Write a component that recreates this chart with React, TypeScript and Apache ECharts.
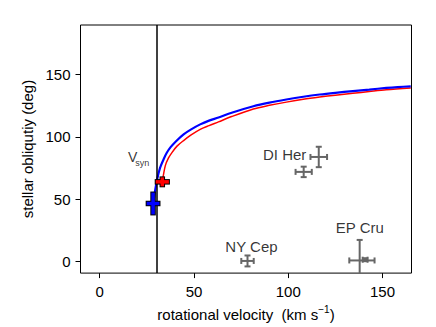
import React, { useEffect, useRef } from "react";
import * as echarts from "echarts";

const FONT = "'Liberation Sans', Arial, Helvetica, sans-serif";

// axis ticks
const xTicks = [0, 50, 100, 150];
const yTicks = [0, 50, 100, 150];

// synchronous rotation velocity
const vSyn = 30;

// model curves [velocity, obliquity]
const blueCurve = [
  [28.4, 46.4], [29.3, 56], [30.5, 66], [32, 75], [33.9, 82], [35.5, 87],
  [37.5, 91.5], [40.5, 96.5], [44.5, 102], [48.5, 106], [53.3, 110], [58, 113],
  [63, 115.5], [70, 119.4], [81.5, 124.6], [90, 127.5], [99, 130], [108, 132.2],
  [116.7, 134], [125, 135.4], [134.3, 136.8], [143, 138], [152, 139.3],
  [158, 140], [165, 140.6],
];
const redCurve = [
  [33.2, 63.8], [34.8, 76.8], [36.5, 83], [38.4, 87.5], [41, 92.5],
  [44.5, 97], [48.5, 101.5], [53.3, 106], [58, 109], [63, 112], [70, 116.3],
  [81.5, 122.4], [90, 125.3], [99, 127.9], [108, 130.2], [116.7, 132],
  [125, 133.5], [134.3, 135], [143, 136.4], [152, 137.8], [165, 139.3],
];

// observed systems: [velocity, obliquity, velocity error, obliquity error]
const observed = [
  [116.2, 83.8, 4.4, 8.2],  // DI Her (primary)
  [108.2, 71.8, 4.3, 4.2],  // DI Her (secondary)
  [78.4, 0.2, 3.3, 4.4],    // NY Cep
  [137.9, 0.6, 0, 16.5],    // EP Cru
  [139.1, 0.6, 6.7, 0],     // EP Cru
  [140.8, 1.2, 1.3, 1.2],   // EP Cru
];

// model crosses: [velocity, obliquity, velocity error, obliquity error]
const blueCross = [[28.3, 46.4, 3.4, 8.8]];
const redCross = [[33.2, 63.8, 3.5, 3.6]];

// annotations
const labelNames = ["DI Her", "NY Cep", "EP Cru"];
const labelX = [98.1, 80.5, 138.0];
const labelY = [85.6, 12.0, 27.1];

const GRAY = "#666666";

function errorRender(params: any, api: any) {
  const x = api.value(0), y = api.value(1), xe = api.value(2), ye = api.value(3);
  const cap = 3;
  const style = { stroke: GRAY, lineWidth: 2, fill: "none" };
  const children: any[] = [];
  if (xe > 0) {
    const l = api.coord([x - xe, y]);
    const r = api.coord([x + xe, y]);
    children.push({ type: "line", shape: { x1: l[0], y1: l[1], x2: r[0], y2: r[1] }, style });
    children.push({ type: "line", shape: { x1: l[0], y1: l[1] - cap, x2: l[0], y2: l[1] + cap }, style });
    children.push({ type: "line", shape: { x1: r[0], y1: r[1] - cap, x2: r[0], y2: r[1] + cap }, style });
  }
  if (ye > 0) {
    const t = api.coord([x, y + ye]);
    const b = api.coord([x, y - ye]);
    children.push({ type: "line", shape: { x1: t[0], y1: t[1], x2: b[0], y2: b[1] }, style });
    children.push({ type: "line", shape: { x1: t[0] - cap, y1: t[1], x2: t[0] + cap, y2: t[1] }, style });
    children.push({ type: "line", shape: { x1: b[0] - cap, y1: b[1], x2: b[0] + cap, y2: b[1] }, style });
  }
  return { type: "group", children };
}

function crossRender(color: string) {
  return (params: any, api: any) => {
    const x = api.value(0), y = api.value(1), xe = api.value(2), ye = api.value(3);
    const c = api.coord([x, y]);
    const l = api.coord([x - xe, y]);
    const r = api.coord([x + xe, y]);
    const t = api.coord([x, y + ye]);
    const b = api.coord([x, y - ye]);
    const th = 3.5;
    const o = 1;
    return {
      type: "group",
      children: [
        { type: "rect", shape: { x: l[0] - o, y: c[1] - th / 2 - o, width: r[0] - l[0] + 2 * o, height: th + 2 * o }, style: { fill: "#000" } },
        { type: "rect", shape: { x: c[0] - th / 2 - o, y: t[1] - o, width: th + 2 * o, height: b[1] - t[1] + 2 * o }, style: { fill: "#000" } },
        { type: "rect", shape: { x: l[0], y: c[1] - th / 2, width: r[0] - l[0], height: th }, style: { fill: color } },
        { type: "rect", shape: { x: c[0] - th / 2, y: t[1], width: th, height: b[1] - t[1] }, style: { fill: color } },
      ],
    };
  };
}

export default function App() {
  const ref = useRef<HTMLDivElement>(null);
  useEffect(() => {
    document.body.style.margin = "0";
    if (!ref.current) return;
    const chart = echarts.init(ref.current, null, { renderer: "svg" });
    const textStyle = { fontFamily: FONT, fontSize: 15, color: "#000" };
    chart.setOption({
      animation: false,
      backgroundColor: "#fff",
      textStyle: { fontFamily: FONT },
      grid: { left: 80.5, top: 25, right: 24.5, bottom: 52, show: true, borderColor: "#000", borderWidth: 1, backgroundColor: "transparent" },
      xAxis: {
        type: "value",
        min: -10.2,
        max: 165.4,
        axisLine: { show: false, onZero: false },
        splitLine: { show: false },
        axisTick: { show: true, customValues: xTicks, length: 5, lineStyle: { color: "#000", width: 1 } },
        axisLabel: { customValues: xTicks, margin: 11, ...textStyle },
        name: "{a|rotational velocity  (km s}{b|−1}{a|)}",
        nameLocation: "middle",
        nameGap: 21,
        nameTextStyle: {
          rich: {
            a: { fontFamily: FONT, fontSize: 15, color: "#000", lineHeight: 18, verticalAlign: "bottom" },
            b: { fontFamily: FONT, fontSize: 10, color: "#000", lineHeight: 10, verticalAlign: "top" },
          },
        },
      },
      yAxis: {
        type: "value",
        min: -9.57,
        max: 189.9,
        axisLine: { show: false, onZero: false },
        splitLine: { show: false },
        axisTick: { show: true, customValues: yTicks, length: 5, lineStyle: { color: "#000", width: 1 } },
        axisLabel: { customValues: yTicks, margin: 10, ...textStyle },
        name: "stellar obliqutiy (deg)",
        nameLocation: "middle",
        nameGap: 43,
        nameTextStyle: { ...textStyle },
      },
      series: [
        {
          type: "line",
          data: [],
          silent: true,
          markLine: {
            symbol: "none",
            silent: true,
            label: { show: false },
            lineStyle: { color: "#000", width: 1.5, type: "solid" },
            data: [{ xAxis: vSyn }],
          },
          z: 1,
        },
        {
          type: "line",
          data: redCurve,
          smooth: 0.3,
          showSymbol: false,
          lineStyle: { color: "#ff0000", width: 1.5 },
          itemStyle: { color: "#ff0000" },
          z: 2,
        },
        {
          type: "line",
          data: blueCurve,
          smooth: 0.3,
          showSymbol: false,
          lineStyle: { color: "#0000ff", width: 2.2 },
          itemStyle: { color: "#0000ff" },
          z: 3,
        },
        {
          type: "custom",
          data: observed,
          encode: { x: 0, y: 1 },
          clip: true,
          renderItem: errorRender,
          z: 4,
        },
        {
          type: "custom",
          data: blueCross,
          encode: { x: 0, y: 1 },
          renderItem: crossRender("#0000ff"),
          z: 5,
        },
        {
          type: "custom",
          data: redCross,
          encode: { x: 0, y: 1 },
          renderItem: crossRender("#ff0000"),
          z: 6,
        },
        {
          type: "scatter",
          symbolSize: 1,
          itemStyle: { color: "rgba(0,0,0,0)" },
          silent: true,
          data: labelNames.map((n, i) => ({ value: [labelX[i], labelY[i]], name: n })),
          label: { show: true, position: "inside", formatter: (p: any) => p.name, ...textStyle },
          z: 7,
        },
        {
          type: "scatter",
          symbolSize: 1,
          itemStyle: { color: "rgba(0,0,0,0)" },
          silent: true,
          data: [
            { value: [17.5, 83.8], name: "V", label: { fontSize: 14 } },
            { value: [22.6, 78.6], name: "syn", label: { fontSize: 9 } },
          ],
          label: { show: true, position: "inside", formatter: (p: any) => p.name, fontFamily: FONT, color: "#000" },
          z: 7,
        },
      ],
    });
    return () => chart.dispose();
  }, []);
  return <div ref={ref} style={{ width: 436, height: 327 }} />;
}
